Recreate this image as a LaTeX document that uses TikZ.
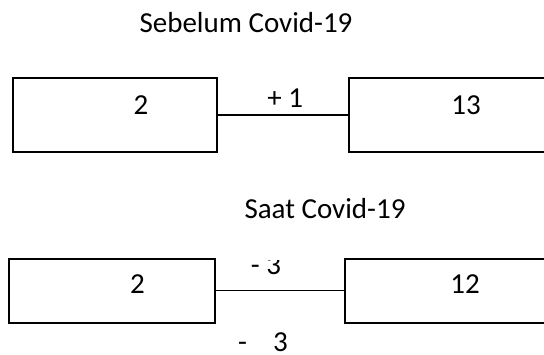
\documentclass[tikz,border=0pt]{standalone}
\usepackage{fontspec}
\setmainfont{Carlito}
\usepackage{tikz}
\usetikzlibrary{positioning}

\begin{document}
\begin{tikzpicture}[x=1pt, y=-1pt, >= stealth, %坐标按像素, y向下
    kotak/.style={draw, rectangle, line width=2.3pt, inner sep=0pt, minimum height=74pt},
    teks/.style={font=\fontsize{29}{34}\selectfont, inner sep=0pt, anchor=base}]
    \useasboundingbox (0,0) rectangle (544,355); %画布大小

    % Sebelum Covid-19
    \node[teks] (judulA) at (246,33) {Sebelum Covid-19};
    \node[kotak, minimum width=204pt] (a1) at (115.3,115) {};
    \node[kotak, minimum width=250pt] (a2) at (474,115) {}; %右框超出画布
    \node[teks] (na1) at (141,115) {2};
    \node[teks] (na2) at (466,115) {13};
    \draw[line width=2.5pt] (a1) -- node[teks, xshift=2pt, yshift=7.5pt] (plusA) {+ 1} (a2);

    % Saat Covid-19
    \node[teks] (judulB) at (325,219) {Saat Covid-19};
    \node[kotak, minimum width=205.4pt, minimum height=64pt] (b1) at (112,290.7) {};
    \node[kotak, minimum width=250pt, minimum height=64pt] (b2) at (470.3,290.7) {};
    \node[teks] (nb1) at (137.5,294) {2};
    \node[teks] (nb2) at (465,294) {12};
    \draw[line width=1.6pt] (b1) -- (b2);
    \begin{scope}
        \clip (200,261) rectangle (340,285); %上方数字被截去一截
        \node[teks] (minA) at (266,275) {- 3};
    \end{scope}
    \node[teks, anchor=base west] (minB) at (238,352) {-\hspace{26pt}3};
\end{tikzpicture}
\end{document}
